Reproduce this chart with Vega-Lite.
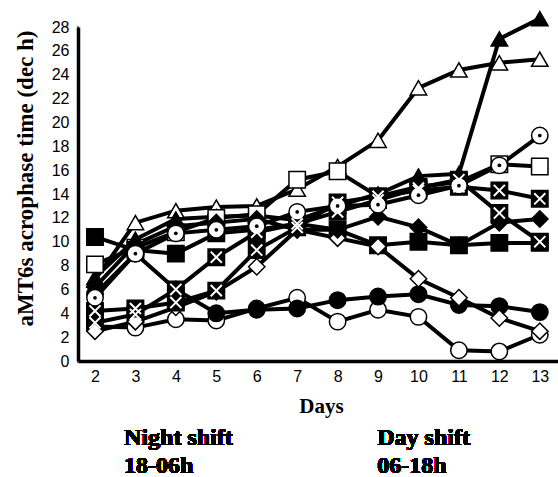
{
  "$schema": "https://vega.github.io/schema/vega-lite/v6.json",
  "width": 482,
  "height": 334,
  "autosize": "none",
  "padding": {"left": 78, "top": 27, "right": 0, "bottom": 116},
  "background": "white",
  "config": {"view": {"stroke": null}},
  "resolve": {"axis": {"y": "independent"}},
  "data": {"values": [
    {"d":2,"s":"otri","v":6.8},{"d":3,"s":"otri","v":11.6},{"d":4,"s":"otri","v":12.6},{"d":5,"s":"otri","v":12.9},{"d":6,"s":"otri","v":13.0},{"d":7,"s":"otri","v":14.4},{"d":8,"s":"otri","v":16.3},{"d":9,"s":"otri","v":18.5},{"d":10,"s":"otri","v":22.9},{"d":11,"s":"otri","v":24.4},{"d":12,"s":"otri","v":25.0},{"d":13,"s":"otri","v":25.3},
    {"d":2,"s":"ftri","v":7.0},{"d":3,"s":"ftri","v":10.2},{"d":4,"s":"ftri","v":11.9},{"d":5,"s":"ftri","v":12.1},{"d":6,"s":"ftri","v":12.2},{"d":7,"s":"ftri","v":11.8},{"d":8,"s":"ftri","v":13.0},{"d":9,"s":"ftri","v":14.0},{"d":10,"s":"ftri","v":15.5},{"d":11,"s":"ftri","v":15.7},{"d":12,"s":"ftri","v":27.0},{"d":13,"s":"ftri","v":28.7},
    {"d":2,"s":"osq","v":8.1},{"d":3,"s":"osq","v":9.5},{"d":4,"s":"osq","v":10.8},{"d":5,"s":"osq","v":12.0},{"d":6,"s":"osq","v":12.3},{"d":7,"s":"osq","v":15.2},{"d":8,"s":"osq","v":15.9},{"d":9,"s":"osq","v":13.8},{"d":10,"s":"osq","v":14.6},{"d":11,"s":"osq","v":15.0},{"d":12,"s":"osq","v":16.5},{"d":13,"s":"osq","v":16.3},
    {"d":2,"s":"fsq","v":10.4},{"d":3,"s":"fsq","v":9.3},{"d":4,"s":"fsq","v":9.0},{"d":5,"s":"fsq","v":10.7},{"d":6,"s":"fsq","v":11.0},{"d":7,"s":"fsq","v":11.5},{"d":8,"s":"fsq","v":11.0},{"d":9,"s":"fsq","v":9.7},{"d":10,"s":"fsq","v":10.0},{"d":11,"s":"fsq","v":9.7},{"d":12,"s":"fsq","v":9.9},{"d":13,"s":"fsq","v":9.9},
    {"d":2,"s":"ocir","v":2.9},{"d":3,"s":"ocir","v":2.8},{"d":4,"s":"ocir","v":3.5},{"d":5,"s":"ocir","v":3.4},{"d":6,"s":"ocir","v":4.4},{"d":7,"s":"ocir","v":5.3},{"d":8,"s":"ocir","v":3.3},{"d":9,"s":"ocir","v":4.3},{"d":10,"s":"ocir","v":3.7},{"d":11,"s":"ocir","v":0.9},{"d":12,"s":"ocir","v":0.8},{"d":13,"s":"ocir","v":2.2},
    {"d":2,"s":"xsqA","v":3.2},{"d":3,"s":"xsqA","v":3.9},{"d":4,"s":"xsqA","v":6.0},{"d":5,"s":"xsqA","v":8.7},{"d":6,"s":"xsqA","v":10.8},{"d":7,"s":"xsqA","v":11.5},{"d":8,"s":"xsqA","v":12.5},{"d":9,"s":"xsqA","v":13.5},{"d":10,"s":"xsqA","v":14.5},{"d":11,"s":"xsqA","v":15.2},{"d":12,"s":"xsqA","v":12.4},{"d":13,"s":"xsqA","v":10.0},
    {"d":2,"s":"fcir","v":5.6},{"d":3,"s":"fcir","v":9.0},{"d":4,"s":"fcir","v":6.0},{"d":5,"s":"fcir","v":4.0},{"d":6,"s":"fcir","v":4.3},{"d":7,"s":"fcir","v":4.4},{"d":8,"s":"fcir","v":5.1},{"d":9,"s":"fcir","v":5.4},{"d":10,"s":"fcir","v":5.6},{"d":11,"s":"fcir","v":4.7},{"d":12,"s":"fcir","v":4.6},{"d":13,"s":"fcir","v":4.1},
    {"d":2,"s":"odia","v":2.5},{"d":3,"s":"odia","v":3.3},{"d":4,"s":"odia","v":4.5},{"d":5,"s":"odia","v":5.8},{"d":6,"s":"odia","v":7.9},{"d":7,"s":"odia","v":11.0},{"d":8,"s":"odia","v":10.3},{"d":9,"s":"odia","v":9.6},{"d":10,"s":"odia","v":6.9},{"d":11,"s":"odia","v":5.3},{"d":12,"s":"odia","v":3.6},{"d":13,"s":"odia","v":2.5},
    {"d":2,"s":"fdia","v":6.2},{"d":3,"s":"fdia","v":9.8},{"d":4,"s":"fdia","v":11.3},{"d":5,"s":"fdia","v":11.6},{"d":6,"s":"fdia","v":11.9},{"d":7,"s":"fdia","v":11.0},{"d":8,"s":"fdia","v":11.0},{"d":9,"s":"fdia","v":12.1},{"d":10,"s":"fdia","v":11.2},{"d":11,"s":"fdia","v":9.7},{"d":12,"s":"fdia","v":11.6},{"d":13,"s":"fdia","v":11.9},
    {"d":2,"s":"xsqB","v":4.2},{"d":3,"s":"xsqB","v":4.4},{"d":4,"s":"xsqB","v":4.9},{"d":5,"s":"xsqB","v":5.9},{"d":6,"s":"xsqB","v":9.3},{"d":7,"s":"xsqB","v":11.2},{"d":8,"s":"xsqB","v":13.3},{"d":9,"s":"xsqB","v":13.8},{"d":10,"s":"xsqB","v":14.3},{"d":11,"s":"xsqB","v":14.6},{"d":12,"s":"xsqB","v":14.3},{"d":13,"s":"xsqB","v":13.6},
    {"d":2,"s":"dcir","v":5.3},{"d":3,"s":"dcir","v":9.0},{"d":4,"s":"dcir","v":10.7},{"d":5,"s":"dcir","v":11.0},{"d":6,"s":"dcir","v":11.3},{"d":7,"s":"dcir","v":12.5},{"d":8,"s":"dcir","v":13.0},{"d":9,"s":"dcir","v":13.1},{"d":10,"s":"dcir","v":13.9},{"d":11,"s":"dcir","v":14.7},{"d":12,"s":"dcir","v":16.4},{"d":13,"s":"dcir","v":18.9}
  ]},
  "layer": [
    {
      "mark": {"type": "line", "color": "black", "strokeWidth": 4, "clip": false},
      "encoding": {
        "x": {"field": "d", "type": "quantitative",
          "scale": {"domain": [1.58, 13.5], "nice": false, "zero": false},
          "axis": {
            "values": [2.5,3.5,4.5,5.5,6.5,7.5,8.5,9.5,10.5,11.5,12.5,13.5],
            "labelExpr": "'' + (datum.value - 0.5)",
            "labelOffset": -20.2,
            "labelFlush": false,
            "labelOverlap": false,
            "labelBound": false,
            "grid": false,
            "ticks": true,
            "domainColor": "black", "domainWidth": 3.5,
            "tickColor": "black", "tickWidth": 3,
            "tickSize": 1,
            "encode": {"ticks": {"update": {"y2": {"value": -10}}}},
            "labelPadding": 6,
            "labelFont": "Liberation Sans", "labelFontSize": 16, "labelColor": "black",
            "title": "Days",
            "titleFont": "Liberation Serif", "titleFontWeight": "bold", "titleFontSize": 21, "titleColor": "black",
            "titleX": 243, "titleY": 51, "titleBaseline": "alphabetic", "titleAlign": "center"
          }
        },
        "y": {"field": "v", "type": "quantitative",
          "scale": {"domain": [0, 28], "nice": false},
          "axis": {
            "orient": "left",
            "values": [0,2,4,6,8,10,12,14,16,18,20,22,24,26,28],
            "labelOverlap": false,
            "grid": false,
            "ticks": true,
            "domainColor": "black", "domainWidth": 3.5,
            "tickColor": "black", "tickWidth": 3,
            "tickSize": 1,
            "encode": {"ticks": {"update": {"x2": {"value": 11}}}},
            "labelPadding": 8,
            "labelFont": "Liberation Sans", "labelFontSize": 16, "labelColor": "black",
            "title": "aMT6s acrophase time (dec h)",
            "titleFont": "Liberation Serif", "titleFontWeight": "bold", "titleFontSize": 23, "titleColor": "black",
            "titleX": -53, "titleY": 151, "titleAngle": 270, "titleBaseline": "middle", "titleAlign": "center"
          }
        },
        "detail": {"field": "s"}
      }
    },
    {
      "mark": {"type": "point", "filled": true, "stroke": "black", "strokeWidth": 1.5, "opacity": 1, "clip": false},
      "encoding": {
        "x": {"field": "d", "type": "quantitative"},
        "y": {"field": "v", "type": "quantitative",
          "axis": {
            "orient": "left",
            "values": [1,3,5,7,9,11,13,15,17,19,21,23,25,27],
            "labels": false, "domain": false, "grid": false, "title": null,
            "ticks": true, "tickColor": "black", "tickWidth": 3, "tickSize": 1,
            "encode": {"ticks": {"update": {"x2": {"value": 6}}}}
          }
        },
        "shape": {"field": "s", "type": "nominal", "legend": null,
          "scale": {"domain": ["otri","ftri","osq","fsq","ocir","fcir","odia","fdia","xsqA","xsqB","dcir"],
                    "range": ["triangle-up","triangle-up","square","square","circle","circle","diamond","diamond","square","square","circle"]}},
        "fill": {"field": "s", "type": "nominal", "legend": null,
          "scale": {"domain": ["otri","ftri","osq","fsq","ocir","fcir","odia","fdia","xsqA","xsqB","dcir"],
                    "range": ["white","black","white","black","white","black","white","black","black","black","white"]}},
        "size": {"field": "s", "type": "nominal", "legend": null,
          "scale": {"domain": ["otri","ftri","osq","fsq","ocir","fcir","odia","fdia","xsqA","xsqB","dcir"],
                    "range": [270,270,220,240,170,230,190,200,220,220,190]}}
      }
    },
    {
      "transform": [{"filter": "datum.s === 'xsqA' || datum.s === 'xsqB'"}],
      "mark": {"type": "point", "filled": false, "shape": "M-0.75,-0.75L0.75,0.75M0.75,-0.75L-0.75,0.75", "stroke": "white", "strokeWidth": 2, "size": 220, "opacity": 1, "clip": false},
      "encoding": {
        "x": {"field": "d", "type": "quantitative"},
        "y": {"field": "v", "type": "quantitative", "axis": null}
      }
    },
    {
      "transform": [{"filter": "datum.s === 'dcir'"}],
      "mark": {"type": "point", "filled": true, "shape": "circle", "color": "black", "size": 14, "opacity": 1, "clip": false},
      "encoding": {
        "x": {"field": "d", "type": "quantitative"},
        "y": {"field": "v", "type": "quantitative", "axis": null}
      }
    },
    {
      "mark": {"type": "text", "align": "left", "baseline": "alphabetic", "font": "Liberation Serif", "fontWeight": "bold", "fontSize": 24, "lineHeight": 28, "color": "black", "clip": false},
      "encoding": {
        "x": {"datum": 2.72, "type": "quantitative"},
        "y": {"datum": -7.04, "type": "quantitative", "axis": null},
        "text": {"value": ["Night shift", "18-06h"]}
      }
    },
    {
      "mark": {"type": "text", "align": "left", "baseline": "alphabetic", "font": "Liberation Serif", "fontWeight": "bold", "fontSize": 24, "lineHeight": 28, "color": "black", "clip": false},
      "encoding": {
        "x": {"datum": 8.98, "type": "quantitative"},
        "y": {"datum": -7.04, "type": "quantitative", "axis": null},
        "text": {"value": ["Day shift", "06-18h"]}
      }
    }
  ]
}
